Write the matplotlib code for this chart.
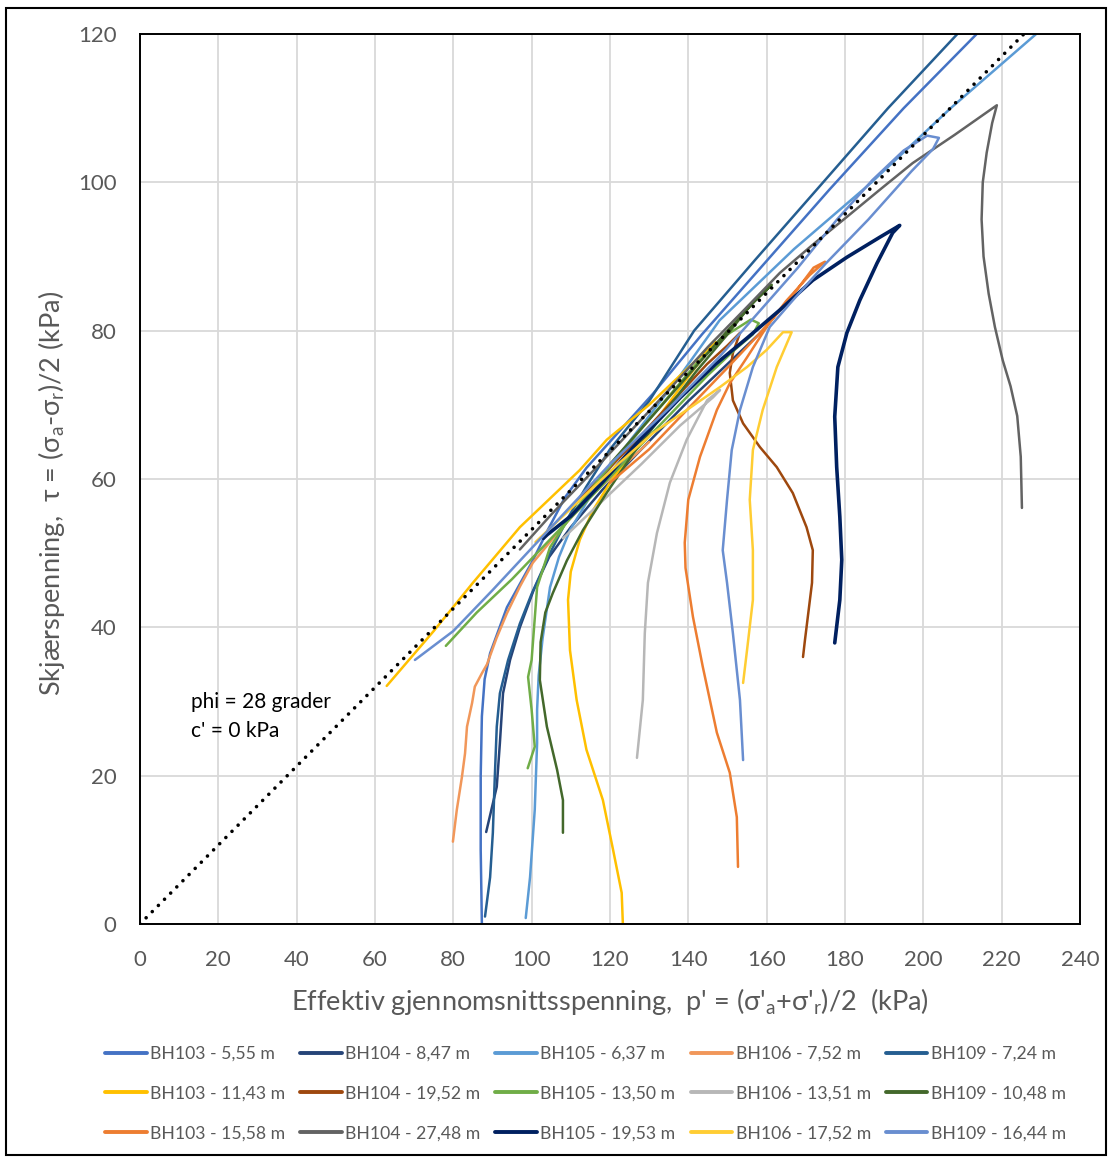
import numpy as np
import matplotlib
matplotlib.use('Agg')
import matplotlib.pyplot as plt
from matplotlib.patches import Rectangle

plt.rcParams['font.family'] = ['Lato', 'DejaVu Sans']

# stress paths, p' (kPa) and tau (kPa)
bh103_555_p = [87.3, 87.0, 87.0, 87.3, 88.0, 89.4, 93.7, 100.3, 104, 108.5, 114, 120.8, 131, 143.5, 159, 176, 195, 215.5]
bh103_555_t = [0, 10, 20, 28, 33, 36.5, 42.7, 49, 53, 57.5, 61.5, 65.5, 71.5, 79.5, 88.8, 99, 110, 121]

bh104_847_p = [88.4, 91.1, 91.9, 92.7, 94.5, 97, 100.5, 104.5, 110, 118, 128, 140, 152, 160]
bh104_847_t = [12.4, 18.5, 24.4, 31.1, 35.6, 40, 45, 49.5, 53.5, 58.5, 64, 70.5, 76.5, 80.5]

bh105_637_p = [98.5, 99.6, 100.8, 101.4, 101.4, 101.8, 102.8, 104.7, 107, 109.8, 114.9, 122, 130, 138, 148, 167, 186.8, 207, 231]
bh105_637_t = [0.8, 6.3, 15.4, 24.4, 28.9, 33.5, 38.5, 45.4, 49.5, 53.1, 57.6, 63, 68.5, 74, 81.4, 91, 100, 110, 121]

bh106_752_p = [79.9, 80.9, 82.2, 83, 83.5, 84.8, 85.5, 87.3, 88.6, 91, 93.7, 97, 100.3, 107.2, 114.9, 124.3, 130]
bh106_752_t = [11.1, 15.4, 19.8, 23, 26.6, 29.8, 32, 33.8, 35, 38.5, 41.9, 45.5, 48.7, 53.1, 57.6, 62.2, 65]

bh109_724_p = [88.1, 89.4, 90.1, 90.6, 91.1, 91.9, 94, 97, 100, 104.7, 109, 114, 120, 130, 141.5, 157, 173.6, 191, 211]
bh109_724_t = [1, 6.3, 12.3, 19.8, 26.6, 31.1, 35.6, 40.5, 44.5, 50, 54.5, 59, 64, 70.5, 80, 89.5, 99.5, 110, 121.3]

bh103_1143_p = [123.3, 123, 120.8, 118.2, 114, 111.5, 109.8, 109.3, 110, 112.3, 115.7, 120, 127, 134, 141, 147,
                140, 130, 119.2, 112.3, 97, 85, 75, 63]
bh103_1143_t = [0, 4.2, 10, 16.7, 23.5, 30.2, 36.9, 43.7, 47.5, 51.8, 55.8, 59.5, 64.5, 69.5, 74.5, 78.5,
                75, 70, 65.3, 61.2, 53.5, 46, 39.5, 32.1]

bh104_1952_p = [169.3, 169.8, 171.6, 171.8, 170.2, 166.7, 162.6, 158.3, 154, 151.4, 150.6, 151.4, 153.2,
                150, 144.8, 136, 127.6, 119, 110]
bh104_1952_t = [36, 38.3, 46, 50.4, 53.5, 58.1, 61.6, 64.3, 67.5, 70.6, 74.3, 77, 79.7,
                78, 75.5, 70.5, 65.7, 61, 56]

bh105_1350_p = [99, 100.8, 100, 99.1, 100, 101.4, 104.7, 110.5, 118, 126, 134, 142, 150, 156, 158,
                156.5, 152, 145, 135, 125, 115, 105, 95, 86, 78.1]
bh105_1350_t = [21, 23.9, 28.9, 33.3, 35.6, 45.4, 50.8, 55.4, 60.5, 65.5, 70.5, 75.5, 79.5, 81.5, 81,
                79.5, 77.5, 74, 68.5, 63, 57.5, 52, 46.5, 42, 37.5]

bh106_1351_p = [126.9, 128.4, 128.9, 129.7, 132, 135.3, 139.6, 144.8, 148.1, 146.3, 137.9, 128, 118, 108]
bh106_1351_t = [22.4, 30.2, 39.2, 46, 52.7, 59.5, 65.3, 70.6, 72, 71, 67.2, 62, 57, 52]

bh109_1048_p = [108, 108, 106.5, 103.9, 102.1, 102.3, 103.5, 105.4, 109, 113.1, 119, 126, 134, 142, 150, 156, 161.3,
                157, 150, 140, 130, 120]
bh109_1048_t = [12.3, 16.7, 20.8, 26.6, 32.9, 38, 42, 44.6, 49, 53.1, 58, 63.5, 69, 74.5, 79.5, 83.5, 86.2,
                84, 80, 74, 68, 62]

bh103_1558_p = [152.7, 152.4, 150.6, 147.3, 143.7, 141.2, 139.3, 139.1, 140, 143, 147.3, 150.6, 155, 160, 165, 171, 174.9,
                172, 167, 163, 158, 150, 140, 130, 120]
bh103_1558_t = [7.7, 14.4, 20.4, 25.8, 34.7, 41.4, 48, 51.4, 57.2, 63, 69.3, 72.9, 76.4, 80.5, 84, 87.5, 89.3,
                88.5, 85, 82.5, 79.5, 75, 69.5, 64, 59.5]

bh104_2748_p = [225.2, 224.9, 224.0, 222.3, 220.3, 218.3, 216.7, 215.4, 214.9, 215.2, 216.2, 217.6, 218.8,
                208, 197.3, 188.9, 180.4, 171.8, 163.4, 155, 145, 135, 125, 115, 105, 97]
bh104_2748_t = [56.1, 63, 68.5, 72.5, 76, 80.5, 85, 90, 95, 100, 104, 108, 110.4,
                106.4, 102.6, 99, 95.3, 91.6, 87.8, 83.2, 77.8, 72, 66.3, 60.7, 55.2, 50.5]

bh105_1953_p = [177.4, 178.7, 179.2, 178.7, 177.9, 177.4, 178.2, 180.5, 183.8, 188.2, 192.2, 194,
                188.9, 180.5, 171.8, 163.4, 155, 147, 138, 128, 118, 110, 104, 103]
bh105_1953_t = [37.9, 43.7, 49.1, 54.9, 61.6, 68.4, 75.1, 79.7, 84.1, 89.1, 93.2, 94.2,
                92.6, 89.9, 86.8, 82.8, 79, 75.5, 71, 65.5, 59.5, 55, 52.5, 52]

bh106_1752_p = [154, 155, 156.5, 156.5, 155.7, 156.5, 159, 162.6, 166.4,
                164.2, 160, 155, 148.1, 139.6, 131, 122.5, 115, 108, 101]
bh106_1752_t = [32.5, 36.9, 43.7, 50.4, 57.2, 63.9, 69.3, 75.1, 79.8,
                79.8, 77.4, 75.1, 72.4, 69.3, 66.2, 62.2, 58.5, 55, 51.5]

bh109_1644_p = [154, 153.2, 151.4, 149.9, 148.8, 149.9, 151.1, 153.2, 156.5, 160.8, 166.7, 175, 186, 197, 202.5, 204,
                201, 195, 187, 178, 168, 158, 148, 135, 120, 105, 90, 80, 70.2]
bh109_1644_t = [22.1, 30.2, 39.2, 46, 50.4, 57.2, 63.9, 69.3, 75.1, 80.5, 84.1, 89, 95, 101.5, 104.5, 106,
                106.3, 104.3, 100.3, 95, 88.5, 82.5, 76.5, 69.5, 62, 53.5, 45, 39.5, 35.6]

# legend order (row by row as in the chart)
labels = ['BH103 - 5,55 m', 'BH104 - 8,47 m', 'BH105 - 6,37 m', 'BH106 - 7,52 m', 'BH109 - 7,24 m',
          'BH103 - 11,43 m', 'BH104 - 19,52 m', 'BH105 - 13,50 m', 'BH106 - 13,51 m', 'BH109 - 10,48 m',
          'BH103 - 15,58 m', 'BH104 - 27,48 m', 'BH105 - 19,53 m', 'BH106 - 17,52 m', 'BH109 - 16,44 m']
paths = [(bh103_555_p, bh103_555_t), (bh104_847_p, bh104_847_t), (bh105_637_p, bh105_637_t),
         (bh106_752_p, bh106_752_t), (bh109_724_p, bh109_724_t),
         (bh103_1143_p, bh103_1143_t), (bh104_1952_p, bh104_1952_t), (bh105_1350_p, bh105_1350_t),
         (bh106_1351_p, bh106_1351_t), (bh109_1048_p, bh109_1048_t),
         (bh103_1558_p, bh103_1558_t), (bh104_2748_p, bh104_2748_t), (bh105_1953_p, bh105_1953_t),
         (bh106_1752_p, bh106_1752_t), (bh109_1644_p, bh109_1644_t)]
colors = ['#4472C4', '#264478', '#5B9BD5', '#F1975A', '#255E91',
          '#FFC000', '#9E480E', '#70AD47', '#B7B7B7', '#43682B',
          '#ED7D31', '#636363', '#002060', '#FFCD33', '#698ED0']
widths = [1.8] * 15
widths[12] = 2.6

phi_deg = 28
c_eff = 0

fig = plt.figure(figsize=(11.11, 11.58), dpi=100)
ax = fig.add_axes([0.126, 0.2021, 0.846, 0.7685])

handles = []
for (p, t), col, lw, lab in zip(paths, colors, widths, labels):
    h, = ax.plot(p, t, color=col, lw=lw, label=lab, solid_joinstyle='round', solid_capstyle='round')
    handles.append(h)

p_line = np.array([0, 240])
ax.plot(p_line, c_eff + p_line * np.tan(np.radians(phi_deg)), color='black', lw=2.6,
        linestyle=(0, (0.01, 2.4)), dash_capstyle='round')

ax.text(13, 31.3, 'phi = 28 grader\nc\' = 0 kPa', fontsize=15, color='black', va='top',
        linespacing=1.6)

ax.set_xlim(0, 240)
ax.set_ylim(0, 120)
ax.set_xticks(np.arange(0, 241, 20))
ax.set_yticks(np.arange(0, 121, 20))
ax.grid(True, color='#D9D9D9', lw=1.3)
ax.set_axisbelow(True)
for s in ax.spines.values():
    s.set_color('black')
    s.set_linewidth(1.4)
ax.tick_params(length=0, labelsize=16, labelcolor='#595959')
ax.tick_params(axis='x', pad=19)
ax.tick_params(axis='y', pad=17)

ax.set_xlabel("Effektiv gjennomsnittsspenning,  p' = (σ'$_\\mathregular{a}$+σ'$_\\mathregular{r}$)/2  (kPa)",
              fontsize=19.5, color='#595959', labelpad=11)
ax.set_ylabel("Skjærspenning,  τ = (σ$_\\mathregular{a}$-σ$_\\mathregular{r}$)/2 (kPa)",
              fontsize=19.5, color='#595959')
ax.yaxis.set_label_coords(-0.078, 0.484)

# matplotlib fills legend columns first, so reorder to read row by row
order = [r * 5 + c for c in range(5) for r in range(3)]
leg = fig.legend([handles[i] for i in order], [labels[i] for i in order], ncol=5,
                 loc='center', bbox_to_anchor=(0.527, 0.0557), frameon=False, fontsize=12.7,
                 handlelength=2.35, handletextpad=0.2, columnspacing=0.85, labelspacing=1.35)
for txt in leg.get_texts():
    txt.set_color('#595959')
for lh in leg.get_lines():
    lh.set_linewidth(2.8)

fig.patches.append(Rectangle((6 / 1111, 3 / 1158), 1100 / 1111, 1147 / 1158, transform=fig.transFigure,
                             fill=False, edgecolor='black', lw=1.5))

fig.savefig('out.png', dpi=100)
